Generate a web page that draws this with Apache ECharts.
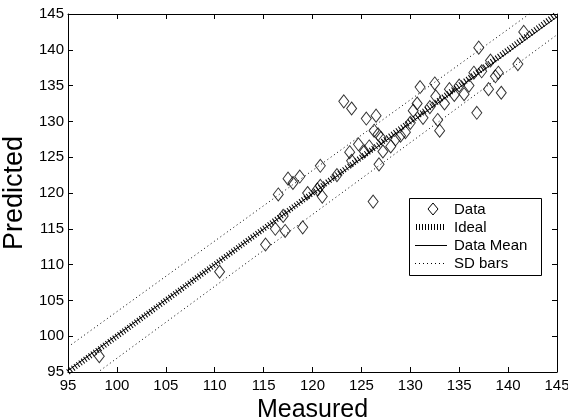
<!DOCTYPE html>
<html><head><meta charset="utf-8">
<script src="https://cdn.jsdelivr.net/npm/echarts@6/dist/echarts.min.js"></script>
<style>html,body{margin:0;padding:0;background:#fff}#c{width:568px;height:417px}</style>
</head><body><div id="c"></div>
<script>
const measured = [98.2,110.5,115.2,116.2,116.5,117,117.2,117.5,118,118.7,119,119.5,120.5,120.8,120.8,121,122.5,123.2,123.8,124,124,124.7,125.3,125.5,125.8,126.2,126.3,126.5,126.7,126.8,127,127.2,128,128.5,129,129.5,130,130.3,130.7,131,131.3,132,132.5,132.6,132.8,133,133.5,134,134.5,135,135.5,136,136.5,136.8,137,137.3,138,138.2,138.7,139,139.3,141,141.6];
const predicted = [97.2,109,112.8,115,119.8,116.8,114.7,122,121.4,122.3,115.2,120,120.5,121,123.8,119.5,122.5,132.8,125.7,131.8,124.5,126.8,125.8,130.4,126.5,118.8,128.7,130.8,128.2,124,127.7,125.8,126.5,127.5,128,128.5,129.8,131.5,132.5,134.8,130.5,132,135.3,133.5,130.2,128.7,132.5,134.5,133.7,135,133.8,135,136.8,131.2,140.3,137,134.5,138.5,136.3,136.8,134,138,142.5];
const idealLine = [[95,95],[145,145]];
const meanLine = [[95,95.2],[145,144.6]];
const sdUpper = [[95,98.5],[145,147.8]];
const sdLower = [[95,91.9],[145,142.1]];
const legendNames = ['Data','Ideal','Data Mean','SD bars'];
const xTicks = {min:95,max:145,interval:5};
const yTicks = {min:95,max:145,interval:5};

const font = 'Liberation Sans, Arial, sans-serif';
const chart = echarts.init(document.getElementById('c'));
const axisCommon = {
  axisLine:{show:true,onZero:false,lineStyle:{color:'#000',width:1}},
  axisTick:{show:true,inside:true,length:5,lineStyle:{color:'#000'}},
  splitLine:{show:false}
};
const LX = 409, LY = 198, rowY = [209,227,245,263];
const legendGraphics = [
  {type:'rect',shape:{x:LX+0.5,y:LY+0.5,width:132,height:77},style:{fill:'#fff',stroke:'#000',lineWidth:1},z:100},
  {type:'polygon',shape:{points:[[433,rowY[0]-6],[438,rowY[0]],[433,rowY[0]+6],[428,rowY[0]]]},style:{fill:'none',stroke:'#000',lineWidth:1},z:101},
  {type:'line',shape:{x1:416,y1:rowY[1],x2:446,y2:rowY[1]},style:{stroke:'#000',lineWidth:6,lineDash:[1,2]},z:101},
  {type:'line',shape:{x1:415,y1:rowY[2]+0.5,x2:447,y2:rowY[2]+0.5},style:{stroke:'#000',lineWidth:1},z:101},
  {type:'line',shape:{x1:415,y1:rowY[3]+0.5,x2:447,y2:rowY[3]+0.5},style:{stroke:'#000',lineWidth:1,lineDash:[1,3]},z:101}
].concat(legendNames.map((n,i)=>({type:'text',x:454,y:rowY[i]+1,style:{text:n,font:'15px '+font,fill:'#000',textVerticalAlign:'middle',verticalAlign:'middle'},z:101})));

chart.setOption({
  animation:false,
  backgroundColor:'#fff',
  grid:{left:68,right:11,top:14,bottom:45,containLabel:false,outerBoundsMode:'none'},
  xAxis:[
    Object.assign({type:'value',min:xTicks.min,max:xTicks.max,interval:xTicks.interval,position:'bottom',
      name:'Measured',nameLocation:'middle',nameGap:19,
      nameTextStyle:{fontFamily:font,fontSize:25,color:'#000'},
      axisLabel:{fontFamily:font,fontSize:15,color:'#000',margin:6}},axisCommon),
    Object.assign({type:'value',min:xTicks.min,max:xTicks.max,interval:xTicks.interval,position:'top',
      axisLabel:{show:false}},axisCommon)
  ],
  yAxis:[
    Object.assign({type:'value',min:yTicks.min,max:yTicks.max,interval:yTicks.interval,position:'left',
      name:'Predicted',nameLocation:'middle',nameGap:34,
      nameTextStyle:{fontFamily:font,fontSize:27,color:'#000'},
      axisLabel:{fontFamily:font,fontSize:15,color:'#000',margin:4}},axisCommon),
    Object.assign({type:'value',min:yTicks.min,max:yTicks.max,interval:yTicks.interval,position:'right',
      axisLabel:{show:false}},axisCommon)
  ],
  graphic:legendGraphics,
  series:[
    {name:'Ideal',type:'line',data:idealLine,showSymbol:false,symbol:'none',
      lineStyle:{color:'#000',width:6,type:[1,2]},z:2},
    {name:'Data Mean',type:'line',data:meanLine,showSymbol:false,symbol:'none',
      lineStyle:{color:'#000',width:1},z:3},
    {name:'SD bars',type:'line',data:sdUpper,showSymbol:false,symbol:'none',clip:true,
      lineStyle:{color:'#000',width:1,type:[1,3]},z:3},
    {name:'SD bars',type:'line',data:sdLower,showSymbol:false,symbol:'none',clip:true,
      lineStyle:{color:'#000',width:1,type:[1,3]},z:3},
    {name:'Data',type:'scatter',data:measured.map((m,i)=>[m,predicted[i]]),
      symbol:'diamond',symbolSize:[10,13],
      itemStyle:{color:'rgba(255,255,255,0)',borderColor:'#000',borderWidth:1},z:4}
  ]
});
</script></body></html>
